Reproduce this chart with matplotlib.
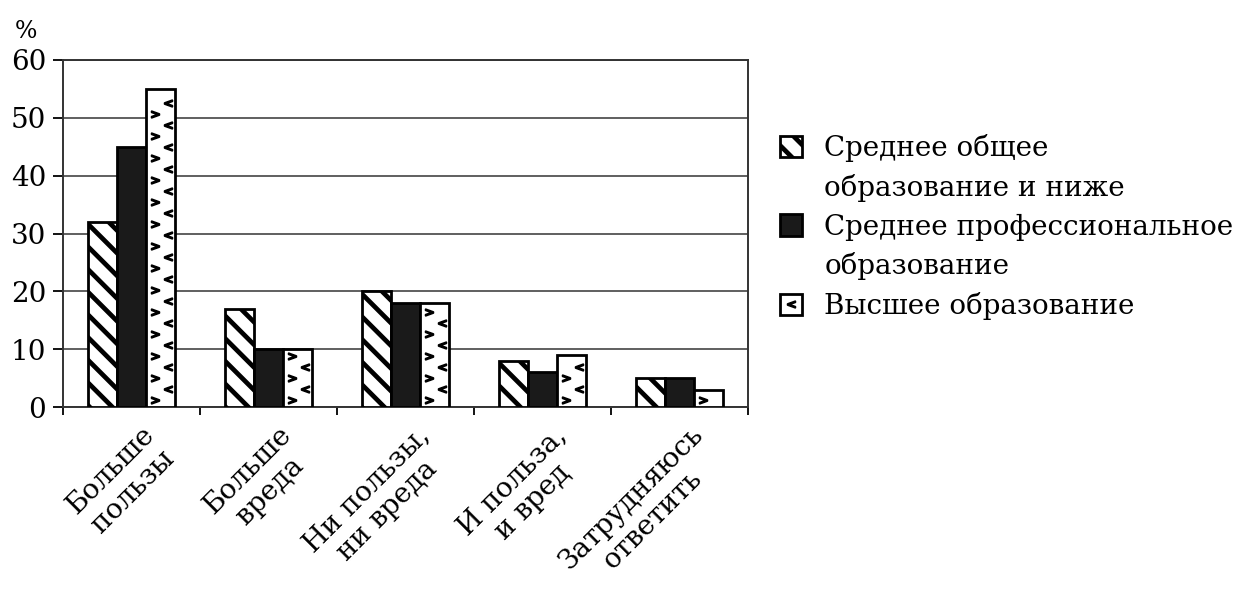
import numpy as np
import matplotlib
matplotlib.use('Agg')
import matplotlib.pyplot as plt
from matplotlib.lines import Line2D
from matplotlib.patches import Patch

# =====================
# DATA
# =====================
categories = ['Больше\nпользы', 'Больше\nвреда', 'Ни пользы,\nни вреда',
              'И польза,\nи вред', 'Затрудняюсь\nответить']
series_names = [['Среднее общее', 'образование и ниже'],
                ['Среднее профессиональное', 'образование'],
                ['Высшее образование']]
general    = [32, 17, 20, 8, 5]
vocational = [45, 10, 18, 6, 5]
higher     = [55, 10, 18, 9, 3]
y_ticks = [0, 10, 20, 30, 40, 50, 60]

# hatch spacing follows the dpi, so a higher dpi gives wider stripes;
# k converts sizes picked for 100 dpi into points at this dpi
DPI = 136
k = 100 / DPI

plt.rcParams['font.family'] = ['DejaVu Serif']
plt.rcParams['hatch.linewidth'] = 3.4 * k
plt.rcParams['hatch.color'] = 'black'

fig = plt.figure(figsize=(1250 / DPI, 597 / DPI), dpi=DPI)
ax = fig.add_axes([0.0504, 0.318, 0.548, 0.5815])

x = np.arange(len(categories))
w = 0.212
bars1 = ax.bar(x - w, general, w, facecolor='white', edgecolor='black',
               linewidth=2 * k, hatch='\\\\', zorder=3)
bars2 = ax.bar(x, vocational, w, facecolor='#1a1a1a', edgecolor='black',
               linewidth=2 * k, zorder=3)
bars3 = ax.bar(x + w, higher, w, facecolor='white', edgecolor='black',
               linewidth=2 * k, zorder=3)

# chevron fill of the "higher education" bars: two staggered columns
chev = 5.5 * k
for b in bars3:
    bx, bw, bh = b.get_x(), b.get_width(), b.get_height()
    for yy in np.arange(1.3, bh - 0.9, 3.8):
        ax.plot(bx + bw * 0.31, yy, marker='$>$', color='black',
                markersize=chev, zorder=4)
    for yy in np.arange(3.2, bh - 0.9, 3.8):
        ax.plot(bx + bw * 0.74, yy, marker='$<$', color='black',
                markersize=chev, zorder=4)

ax.set_xlim(-0.5, len(categories) - 0.5)
ax.set_ylim(0, 60)
ax.set_yticks(y_ticks)
ax.set_yticklabels([str(v) for v in y_ticks], fontsize=20 * k)
ax.yaxis.grid(True, color='#444444', linewidth=1.2 * k, zorder=0)
ax.tick_params(axis='y', direction='out', length=7 * k, width=1.3 * k, pad=5 * k)

# ticks between the groups, labels centred under each group
ax.set_xticks(np.arange(len(categories) + 1) - 0.5)
ax.set_xticklabels([])
ax.tick_params(axis='x', direction='out', length=6 * k, width=1.3 * k)
for i, lab in enumerate(categories):
    ax.annotate(lab, xy=(i + 0.07, 0), xycoords=('data', 'axes fraction'),
                xytext=(0, -10 * k), textcoords='offset points',
                rotation=45, rotation_mode='anchor', ha='right', va='top',
                multialignment='center', fontsize=20 * k, linespacing=1.15)

for s in ax.spines.values():
    s.set_linewidth(1.4 * k)
    s.set_color('#333333')

fig.text(0.021, 0.948, '%', fontsize=17 * k, ha='center', va='center')

# legend: one row per text line, the swatch sits on the first line of each entry
chev_handle = Line2D([], [], marker='$<$', linestyle='none', color='black',
                     markersize=chev)
blank = Patch(facecolor='none', edgecolor='none')
handles, labels = [], []
for h, lines in zip([bars1, bars2, (bars3, chev_handle)], series_names):
    for j, line in enumerate(lines):
        handles.append(h if j == 0 else blank)
        labels.append(line)
fig.legend(handles, labels, loc='upper left', bbox_to_anchor=(0.624, 0.775),
           frameon=False, fontsize=20 * k, borderpad=0, borderaxespad=0,
           handlelength=0.8, handleheight=0.8, handletextpad=0.8,
           labelspacing=0.42)

fig.savefig('out.png', dpi=DPI)
